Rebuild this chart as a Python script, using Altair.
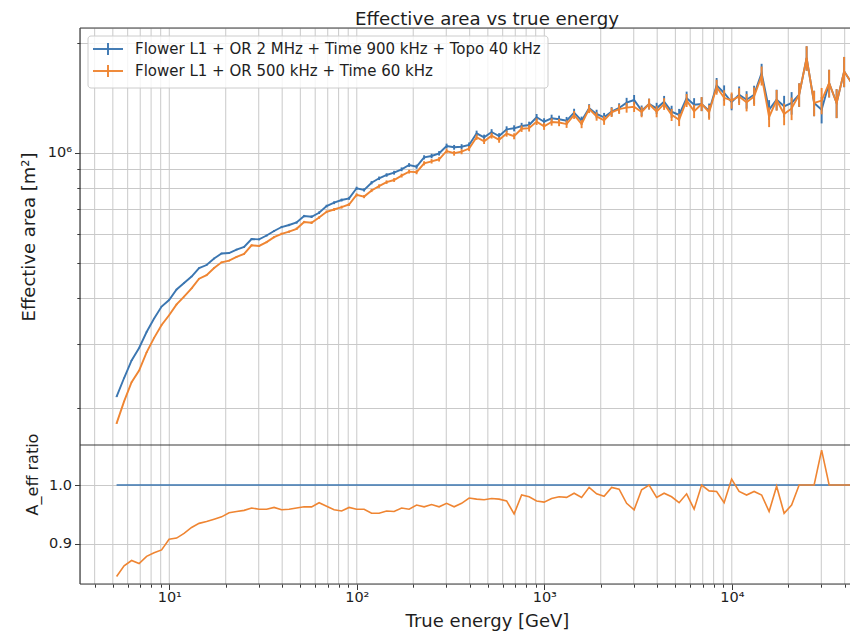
import altair as alt
import pandas as pd

# ---------------- data ----------------
energy_gev = [
    5.236, 5.741, 6.295, 6.903, 7.569, 8.299, 9.100, 9.976,
    10.94, 11.99, 13.15, 14.42, 15.81, 17.34, 19.01, 20.84, 22.86, 25.06, 27.48, 30.13,
    33.04, 36.22, 39.72, 43.55, 47.75, 52.36, 57.41, 62.95, 69.03, 75.69, 82.99, 91.00, 99.76,
    109.4, 119.9, 131.5, 144.2, 158.1, 173.4, 190.1, 208.4, 228.6, 250.6, 274.8, 301.3,
    330.4, 362.2, 397.2, 435.5, 477.5, 523.6, 574.1, 629.5, 690.3, 756.9, 829.9, 910.0, 997.6,
    1094, 1199, 1315, 1442, 1581, 1734, 1901, 2084, 2286, 2506, 2748, 3013,
    3304, 3622, 3972, 4355, 4775, 5236, 5741, 6295, 6903, 7569, 8299, 9100, 9976,
    10940, 11990, 13150, 14420, 15810, 17340, 19010, 20840, 22860, 25060, 27480, 30130,
    33040, 36220, 39720, 43550, 47750,
]

area_blue = [
    214600, 241400, 269600, 291700, 322700, 351400, 379000, 394900, 421900, 439500,
    457900, 483100, 492300, 513000, 529400, 531100, 542900, 551600, 580100, 579000,
    593100, 610100, 625700, 633700, 643800, 670700, 667700, 684800, 714400, 729400,
    741900, 749900, 799000, 790500, 827600, 850900, 868800, 881500, 900600, 925300,
    915500, 971400, 979400, 996200, 1043200, 1034700, 1038600, 1049800, 1130200, 1102000,
    1139500, 1111100, 1159100, 1166400, 1183500, 1191000, 1250300, 1216000, 1242400, 1234600,
    1223700, 1287300, 1224000, 1323500, 1276800, 1250300, 1295400, 1326000, 1371000, 1394500,
    1303600, 1359800, 1323500, 1379600, 1295400, 1268700, 1412200, 1353800, 1359800, 1303600,
    1529800, 1457600, 1377000, 1442100, 1397100, 1442100, 1652900, 1311800, 1397100, 1340300,
    1368400, 1442100, 1817200, 1368400, 1311800, 1552200, 1368400, 1670700, 1552200, 1466800,
]

area_orange = [
    181300, 208300, 235100, 252900, 283700, 311000, 337300, 358600, 383900, 403500,
    424900, 451700, 461800, 483200, 500800, 506100, 518500, 527900, 557500, 555300,
    568800, 586900, 599400, 607700, 618700, 645900, 643000, 664300, 688700, 698800,
    709300, 721400, 766200, 758100, 787900, 810100, 830600, 841800, 865500, 887400,
    884400, 935500, 947100, 959300, 1010900, 996400, 1006400, 1026700, 1103100, 1074500,
    1113300, 1084400, 1127800, 1109300, 1163400, 1167200, 1216500, 1180700, 1213800, 1209900,
    1198000, 1269300, 1198300, 1318200, 1257600, 1226500, 1290200, 1316700, 1328500, 1335900,
    1293200, 1359800, 1295700, 1360300, 1269500, 1230600, 1391000, 1298300, 1359800, 1290600,
    1513000, 1413900, 1390800, 1426200, 1373400, 1426200, 1624800, 1252800, 1394300, 1276000,
    1321900, 1442100, 1817200, 1368400, 1389200, 1552200, 1368400, 1670700, 1552200, 1466800,
]

# relative statistical error of each bin
rel_err = [
    0.003, 0.003, 0.003, 0.003, 0.003, 0.003, 0.003, 0.003, 0.004, 0.004,
    0.004, 0.004, 0.004, 0.005, 0.005, 0.005, 0.005, 0.005, 0.006, 0.006,
    0.006, 0.006, 0.007, 0.007, 0.007, 0.007, 0.008, 0.008, 0.008, 0.009,
    0.009, 0.009, 0.010, 0.010, 0.010, 0.011, 0.011, 0.012, 0.012, 0.012,
    0.013, 0.013, 0.014, 0.014, 0.015, 0.015, 0.016, 0.016, 0.017, 0.017,
    0.018, 0.018, 0.019, 0.019, 0.020, 0.021, 0.021, 0.022, 0.023, 0.023,
    0.024, 0.025, 0.026, 0.026, 0.027, 0.028, 0.029, 0.030, 0.031, 0.032,
    0.033, 0.034, 0.035, 0.037, 0.038, 0.039, 0.041, 0.042, 0.044, 0.046,
    0.047, 0.049, 0.051, 0.053, 0.055, 0.058, 0.060, 0.062, 0.065, 0.068,
    0.071, 0.074, 0.077, 0.080, 0.083, 0.087, 0.091, 0.095, 0.099, 0.104,
]

ratio_orange = [
    0.845, 0.863, 0.872, 0.867, 0.879, 0.885, 0.890, 0.908, 0.910, 0.918,
    0.928, 0.935, 0.938, 0.942, 0.946, 0.953, 0.955, 0.957, 0.961, 0.959,
    0.959, 0.962, 0.958, 0.959, 0.961, 0.963, 0.963, 0.970, 0.964, 0.958,
    0.956, 0.962, 0.959, 0.959, 0.952, 0.952, 0.956, 0.955, 0.961, 0.959,
    0.966, 0.963, 0.967, 0.963, 0.969, 0.963, 0.969, 0.978, 0.976, 0.975,
    0.977, 0.976, 0.973, 0.951, 0.983, 0.980, 0.973, 0.971, 0.977, 0.980,
    0.979, 0.986, 0.979, 0.996, 0.985, 0.981, 0.996, 0.993, 0.969, 0.958,
    0.992, 1.000, 0.979, 0.986, 0.980, 0.970, 0.985, 0.959, 1.000, 0.990,
    0.989, 0.970, 1.010, 0.989, 0.983, 0.989, 0.983, 0.955, 0.998, 0.952,
    0.966, 1.000, 1.000, 1.000, 1.059, 1.000, 1.000, 1.000, 1.000, 1.000,
]
ratio_blue = [1.0] * len(energy_gev)

series_names = [
    "Flower L1 + OR 2 MHz + Time 900 kHz + Topo 40 kHz",
    "Flower L1 + OR 500 kHz + Time 60 kHz",
]
series_colors = ["#3b76b1", "#ef8532"]

x_tick_values = [4, 5, 6, 7, 8, 9, 10, 20, 30, 40, 50, 60, 70, 80, 90,
                 100, 200, 300, 400, 500, 600, 700, 800, 900,
                 1000, 2000, 3000, 4000, 5000, 6000, 7000, 8000, 9000,
                 10000, 20000, 30000, 40000]
y_tick_values = [200000, 300000, 400000, 500000, 600000, 700000, 800000, 900000,
                 1000000, 2000000]
ratio_tick_values = [0.9, 1.0]

# ---------------- layout ----------------
W = 770          # plot width (cropped on the right like the reference)
H_TOP = 417      # upper panel height
H = 556          # both panels
FONT = "DejaVu Sans"
GRID = "#c9c9c9"
SPINE = "#3a3a3a"
TXT = "#1e1e1e"

def top_frame(vals):
    return pd.DataFrame({
        "energy": energy_gev,
        "value": vals,
        "lo": [v * (1 - e) for v, e in zip(vals, rel_err)],
        "hi": [v * (1 + e) for v, e in zip(vals, rel_err)],
    })

def ratio_frame(vals):
    return pd.DataFrame({"energy": energy_gev, "ratio": vals})

x_scale = alt.Scale(type="log", domain=[3.341, 42690])
y_scale = alt.Scale(type="log", domain=[158200, 2196000], range=[H_TOP, 0])
r_scale = alt.Scale(domain=[0.8322, 1.0678], range=[H, H_TOP])

x_axis = alt.Axis(
    orient="bottom", values=x_tick_values,
    labelExpr="datum.value == 10 ? '10¹' : datum.value == 100 ? '10²' : "
              "datum.value == 1000 ? '10³' : datum.value == 10000 ? '10⁴' : ''",
    tickSize={"condition": {"test": "datum.value == 10 || datum.value == 100 || datum.value == 1000 || datum.value == 10000", "value": 5.5}, "value": 3.2},
    labelFontSize=14.5, labelFont=FONT, labelColor=TXT, labelPadding=1,
    labelFlush=False, labelOverlap=False,
    tickColor=SPINE, domain=False, grid=False,
    title="True energy [GeV]", titleFont=FONT, titleFontSize=18,
    titleFontWeight="normal", titleColor=TXT,
    titleX=407, titleY=37, titleBaseline="middle", titleAlign="center",
)

y_axis = alt.Axis(
    orient="left", values=y_tick_values,
    labelExpr="datum.value == 1000000 ? '10⁶ ' : ''",
    tickSize={"condition": {"test": "datum.value == 1000000", "value": 5.5}, "value": 3.2},
    labelFontSize=14.5, labelFont=FONT, labelColor=TXT, labelPadding=3,
    labelOverlap=False, tickColor=SPINE, domain=False,
    grid=True, gridColor=GRID, gridWidth=1,
    title="Effective area [m²]", titleFont=FONT, titleFontSize=18,
    titleFontWeight="normal", titleColor=TXT,
    titleX=-51, titleY=208.5, titleAngle=-90, titleBaseline="middle", titleAlign="center",
)

r_axis = alt.Axis(
    orient="left", values=ratio_tick_values, format=".1f",
    tickSize=5.5, labelFontSize=14.5, labelFont=FONT, labelColor=TXT, labelPadding=3,
    labelOverlap=False, tickColor=SPINE, domain=False,
    grid=True, gridColor=GRID, gridWidth=1,
    title="A_eff ratio", titleFont=FONT, titleFontSize=16,
    titleFontWeight="normal", titleColor=TXT,
    titleX=-47.5, titleY=446, titleAngle=-90, titleBaseline="middle", titleAlign="center",
)

X = alt.X("energy:Q", scale=x_scale, axis=x_axis)

# vertical grid lines through both panels (major and minor decades)
vgrid = alt.Chart(pd.DataFrame({"energy": x_tick_values})).mark_rule(
    color=GRID, strokeWidth=1
).encode(x=X, y=alt.value(0), y2=alt.value(H))

blue_top = top_frame(area_blue)
orange_top = top_frame(area_orange)

def top_layers(df, color):
    line = alt.Chart(df).mark_line(color=color, strokeWidth=1.9).encode(
        x=X,
        y=alt.Y("value:Q", scale=y_scale, axis=y_axis),
    )
    err = alt.Chart(df).mark_rule(color=color, strokeWidth=1.9).encode(
        x=X,
        y=alt.Y("lo:Q", scale=y_scale, axis=y_axis),
        y2="hi:Q",
    )
    return [line, err]

top = alt.layer(*top_layers(blue_top, series_colors[0]),
                *top_layers(orange_top, series_colors[1]))

r_blue = alt.Chart(ratio_frame(ratio_blue)).mark_line(color=series_colors[0], strokeWidth=1.6).encode(
    x=X, y=alt.Y("ratio:Q", scale=r_scale, axis=r_axis),
)
r_orange = alt.Chart(ratio_frame(ratio_orange)).mark_line(color=series_colors[1], strokeWidth=1.6).encode(
    x=X, y=alt.Y("ratio:Q", scale=r_scale, axis=r_axis),
)
bottom = alt.layer(r_blue, r_orange)

one = pd.DataFrame({"k": [0]})

def rule(**enc):
    return alt.Chart(one).mark_rule(color=SPINE, strokeWidth=1.2).encode(**enc)

spines = [
    rule(x=alt.value(0), y=alt.value(0), y2=alt.value(H)),
    rule(x=alt.value(0), x2=alt.value(W + 40), y=alt.value(0)),
    rule(x=alt.value(0), x2=alt.value(W + 40), y=alt.value(H_TOP)),
    rule(x=alt.value(0), x2=alt.value(W + 40), y=alt.value(H)),
]

# legend box (matplotlib style)
legend = [
    alt.Chart(one).mark_rect(fill="white", fillOpacity=0.8, stroke="#cccccc",
                             strokeWidth=1, cornerRadius=3).encode(
        x=alt.value(8), x2=alt.value(468), y=alt.value(8), y2=alt.value(60)),
]
for i, (name, col) in enumerate(zip(series_names, series_colors)):
    yy = 21 + 22 * i
    legend.append(alt.Chart(one).mark_rule(color=col, strokeWidth=1.9).encode(
        x=alt.value(13), x2=alt.value(43), y=alt.value(yy)))
    legend.append(alt.Chart(one).mark_rule(color=col, strokeWidth=1.9).encode(
        x=alt.value(28), y=alt.value(yy - 6), y2=alt.value(yy + 6)))
    legend.append(alt.Chart(one).mark_text(text=name, align="left", baseline="middle",
                                           font=FONT, fontSize=15, color=TXT).encode(
        x=alt.value(55), y=alt.value(yy)))

title = alt.Chart(one).mark_text(text="Effective area vs true energy", align="center",
                                 baseline="alphabetic", font=FONT, fontSize=18.2, color=TXT).encode(
    x=alt.value(407), y=alt.value(-3.5))

chart = alt.layer(vgrid, top, bottom, *spines, *legend, title).resolve_scale(
    y="independent"
).properties(
    width=W, height=H,
    autosize=alt.AutoSizeParams(type="none"),
    padding={"left": 72, "top": 20, "right": 0, "bottom": 50},
).configure_view(stroke=None).configure(font=FONT)

chart.save("out.html", embed_options={"renderer": "svg", "actions": False})
